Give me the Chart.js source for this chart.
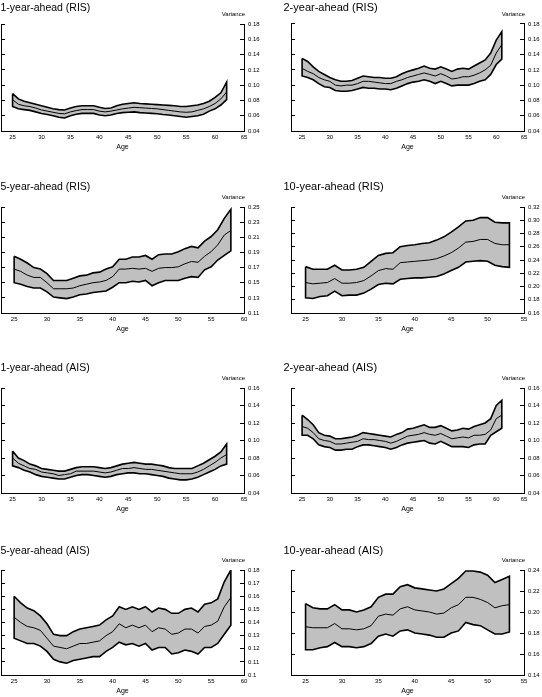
<!DOCTYPE html>
<html><head><meta charset="utf-8">
<script src="https://cdn.jsdelivr.net/npm/chart.js@4/dist/chart.umd.min.js"></script>
<style>
html,body{margin:0;padding:0;background:#fff;width:542px;height:697px;overflow:hidden;position:relative}
canvas{position:absolute}
</style></head><body>
<script>
// ---- categories (ages) ----
const ages1 = [25,26,27,28,29,30,31,32,33,34,35,36,37,38,39,40,41,42,43,44,45,46,47,48,49,50,51,52,53,54,55,56,57,58,59,60,61,62];
const ages2 = [25,26,27,28,29,30,31,32,33,34,35,36,37,38,39,40,41,42,43,44,45,46,47,48,49,50,51,52,53,54,55,56,57,58,59,60,61];
const ages5 = [25,26,27,28,29,30,31,32,33,34,35,36,37,38,39,40,41,42,43,44,45,46,47,48,49,50,51,52,53,54,55,56,57,58];
const ages10 = [25,26,27,28,29,30,31,32,33,34,35,36,37,38,39,40,41,42,43,44,45,46,47,48,49,50,51,52,53];

// ---- RIS ----
const ris1Upper = [0.089,0.082,0.079,0.077,0.075,0.073,0.071,0.069,0.068,0.0675,0.070,0.072,0.073,0.073,0.073,0.071,0.0695,0.070,0.073,0.075,0.076,0.077,0.076,0.0755,0.075,0.0745,0.074,0.0735,0.073,0.072,0.072,0.073,0.074,0.076,0.079,0.084,0.090,0.104];
const ris1Mean  = [0.081,0.075,0.073,0.072,0.070,0.0675,0.066,0.0645,0.063,0.0625,0.065,0.0667,0.068,0.068,0.068,0.066,0.065,0.066,0.0675,0.069,0.070,0.071,0.0705,0.070,0.0695,0.069,0.068,0.067,0.066,0.065,0.0645,0.065,0.067,0.069,0.072,0.076,0.082,0.091];
const ris1Lower = [0.072,0.069,0.068,0.067,0.065,0.063,0.0615,0.060,0.058,0.057,0.060,0.062,0.063,0.063,0.063,0.061,0.060,0.061,0.063,0.064,0.0645,0.065,0.064,0.0635,0.063,0.0625,0.0615,0.061,0.060,0.059,0.058,0.059,0.060,0.062,0.066,0.069,0.074,0.081];

const ris2Upper = [0.135,0.131,0.124,0.118,0.114,0.110,0.107,0.105,0.105,0.106,0.109,0.112,0.111,0.110,0.110,0.109,0.109,0.111,0.115,0.118,0.120,0.122,0.125,0.122,0.121,0.124,0.121,0.118,0.121,0.122,0.121,0.125,0.129,0.133,0.142,0.159,0.170];
const ris2Mean  = [0.122,0.118,0.115,0.110,0.107,0.105,0.100,0.099,0.100,0.100,0.102,0.105,0.105,0.104,0.103,0.102,0.102,0.105,0.107,0.110,0.112,0.114,0.116,0.114,0.112,0.115,0.112,0.108,0.109,0.111,0.111,0.113,0.116,0.120,0.126,0.142,0.153];
const ris2Lower = [0.112,0.110,0.107,0.102,0.098,0.097,0.093,0.092,0.092,0.093,0.095,0.097,0.096,0.096,0.095,0.095,0.094,0.096,0.099,0.102,0.104,0.105,0.107,0.105,0.102,0.105,0.102,0.099,0.100,0.100,0.100,0.102,0.105,0.107,0.114,0.127,0.134];

const ris5Upper = [0.185,0.181,0.176,0.170,0.168,0.162,0.153,0.153,0.153,0.156,0.159,0.160,0.163,0.164,0.168,0.171,0.181,0.181,0.184,0.184,0.186,0.181,0.187,0.188,0.188,0.191,0.195,0.198,0.196,0.205,0.211,0.220,0.235,0.247];
const ris5Mean  = [0.168,0.165,0.160,0.157,0.157,0.150,0.142,0.142,0.142,0.143,0.146,0.148,0.150,0.151,0.153,0.158,0.168,0.168,0.169,0.168,0.169,0.165,0.169,0.170,0.170,0.171,0.175,0.178,0.177,0.185,0.191,0.200,0.213,0.219];
const ris5Lower = [0.150,0.148,0.145,0.143,0.143,0.138,0.131,0.130,0.129,0.131,0.134,0.135,0.137,0.138,0.139,0.144,0.150,0.150,0.152,0.151,0.153,0.146,0.150,0.153,0.153,0.153,0.156,0.158,0.157,0.167,0.171,0.180,0.186,0.192];

const ris10Upper = [0.230,0.226,0.226,0.226,0.232,0.225,0.225,0.226,0.229,0.238,0.247,0.250,0.251,0.260,0.262,0.263,0.265,0.266,0.270,0.275,0.282,0.290,0.299,0.300,0.304,0.304,0.297,0.296,0.296];
const ris10Mean  = [0.206,0.204,0.205,0.206,0.212,0.205,0.205,0.206,0.209,0.216,0.224,0.227,0.226,0.236,0.237,0.238,0.239,0.240,0.242,0.246,0.251,0.258,0.267,0.268,0.271,0.271,0.265,0.263,0.263];
const ris10Lower = [0.183,0.182,0.185,0.186,0.193,0.186,0.187,0.187,0.190,0.196,0.203,0.205,0.204,0.211,0.212,0.213,0.213,0.214,0.215,0.219,0.224,0.229,0.237,0.238,0.239,0.238,0.232,0.230,0.229];

// ---- AIS ----
const ais1Upper = [0.088,0.080,0.077,0.073,0.071,0.068,0.067,0.066,0.065,0.065,0.067,0.069,0.070,0.070,0.070,0.069,0.068,0.069,0.071,0.073,0.074,0.075,0.074,0.073,0.073,0.072,0.071,0.069,0.068,0.068,0.068,0.068,0.071,0.074,0.078,0.082,0.087,0.096];
const ais1Mean  = [0.080,0.074,0.071,0.068,0.067,0.064,0.063,0.062,0.060,0.061,0.062,0.065,0.065,0.065,0.065,0.064,0.063,0.064,0.066,0.068,0.068,0.069,0.068,0.067,0.067,0.066,0.065,0.064,0.063,0.062,0.062,0.062,0.064,0.067,0.071,0.075,0.080,0.084];
const ais1Lower = [0.071,0.069,0.066,0.064,0.061,0.059,0.058,0.057,0.056,0.056,0.058,0.060,0.061,0.061,0.060,0.059,0.058,0.059,0.061,0.062,0.063,0.063,0.062,0.062,0.061,0.060,0.059,0.057,0.056,0.055,0.055,0.056,0.058,0.061,0.064,0.067,0.071,0.073];

const ais2Upper = [0.129,0.124,0.118,0.109,0.106,0.105,0.102,0.102,0.103,0.104,0.106,0.109,0.108,0.107,0.106,0.105,0.104,0.107,0.109,0.113,0.114,0.116,0.118,0.115,0.115,0.117,0.114,0.111,0.112,0.114,0.113,0.116,0.118,0.120,0.125,0.140,0.146];
const ais2Mean  = [0.116,0.114,0.109,0.102,0.100,0.099,0.096,0.096,0.097,0.098,0.099,0.102,0.101,0.101,0.100,0.099,0.097,0.099,0.102,0.105,0.106,0.107,0.109,0.107,0.106,0.108,0.105,0.102,0.103,0.104,0.103,0.106,0.106,0.107,0.112,0.125,0.129];
const ais2Lower = [0.106,0.106,0.102,0.095,0.093,0.092,0.089,0.089,0.090,0.090,0.093,0.095,0.095,0.094,0.093,0.092,0.090,0.092,0.095,0.097,0.098,0.099,0.100,0.097,0.096,0.099,0.096,0.093,0.093,0.093,0.092,0.095,0.096,0.096,0.106,0.110,0.114];

const ais5Upper = [0.160,0.155,0.151,0.149,0.145,0.139,0.131,0.130,0.130,0.133,0.135,0.136,0.137,0.138,0.142,0.145,0.152,0.150,0.152,0.150,0.152,0.148,0.151,0.150,0.147,0.147,0.150,0.151,0.148,0.154,0.155,0.158,0.171,0.180];
const ais5Mean  = [0.144,0.140,0.137,0.136,0.134,0.128,0.122,0.121,0.120,0.122,0.124,0.124,0.125,0.126,0.130,0.133,0.139,0.136,0.138,0.136,0.138,0.133,0.136,0.135,0.131,0.132,0.135,0.135,0.132,0.137,0.138,0.141,0.152,0.159];
const ais5Lower = [0.128,0.126,0.124,0.124,0.122,0.118,0.112,0.110,0.109,0.111,0.112,0.113,0.114,0.114,0.118,0.121,0.125,0.123,0.124,0.122,0.124,0.119,0.121,0.121,0.116,0.117,0.119,0.118,0.116,0.121,0.121,0.124,0.131,0.138];

const ais10Upper = [0.208,0.204,0.203,0.203,0.207,0.202,0.202,0.200,0.202,0.205,0.214,0.217,0.217,0.224,0.226,0.223,0.222,0.221,0.220,0.222,0.227,0.232,0.239,0.239,0.238,0.235,0.228,0.231,0.234];
const ais10Mean  = [0.186,0.185,0.185,0.185,0.189,0.184,0.184,0.183,0.184,0.187,0.196,0.198,0.197,0.203,0.205,0.202,0.201,0.200,0.198,0.199,0.204,0.207,0.214,0.214,0.212,0.209,0.204,0.206,0.207];
const ais10Lower = [0.164,0.164,0.166,0.167,0.171,0.167,0.167,0.166,0.167,0.170,0.177,0.179,0.177,0.182,0.183,0.180,0.179,0.178,0.176,0.176,0.180,0.182,0.190,0.188,0.187,0.183,0.179,0.179,0.181];

// ---- tick labels ----
const xTicks65 = [25,30,35,40,45,50,55,60,65];
const xTicks60 = [25,30,35,40,45,50,55,60];
const xTicks55 = [25,30,35,40,45,50,55];
const yTicksRis1 = [0.04,0.06,0.08,0.10,0.12,0.14,0.16,0.18];
const yTicksRis2 = [0.04,0.06,0.08,0.10,0.12,0.14,0.16,0.18];
const yTicksRis5 = [0.11,0.13,0.15,0.17,0.19,0.21,0.23,0.25];
const yTicksRis10 = [0.16,0.18,0.20,0.22,0.24,0.26,0.28,0.30,0.32];
const yTicksAis1 = [0.04,0.06,0.08,0.10,0.12,0.14,0.16];
const yTicksAis2 = [0.04,0.06,0.08,0.10,0.12,0.14,0.16];
const yTicksAis5 = [0.10,0.11,0.12,0.13,0.14,0.15,0.16,0.17,0.18];
const yTicksAis10 = [0.14,0.16,0.18,0.20,0.22,0.24];

const titles = ['1-year-ahead (RIS)','2-year-ahead (RIS)','5-year-ahead (RIS)','10-year-ahead (RIS)',
                '1-year-ahead (AIS)','2-year-ahead (AIS)','5-year-ahead (AIS)','10-year-ahead (AIS)'];

const panels = [
  {ages:ages1, up:ris1Upper, mean:ris1Mean, low:ris1Lower, yT:yTicksRis1, xT:xTicks65, fmt:2},
  {ages:ages2, up:ris2Upper, mean:ris2Mean, low:ris2Lower, yT:yTicksRis2, xT:xTicks65, fmt:2},
  {ages:ages5, up:ris5Upper, mean:ris5Mean, low:ris5Lower, yT:yTicksRis5, xT:xTicks60, fmt:2},
  {ages:ages10, up:ris10Upper, mean:ris10Mean, low:ris10Lower, yT:yTicksRis10, xT:xTicks55, fmt:2},
  {ages:ages1, up:ais1Upper, mean:ais1Mean, low:ais1Lower, yT:yTicksAis1, xT:xTicks65, fmt:2},
  {ages:ages2, up:ais2Upper, mean:ais2Mean, low:ais2Lower, yT:yTicksAis2, xT:xTicks65, fmt:2},
  {ages:ages5, up:ais5Upper, mean:ais5Mean, low:ais5Lower, yT:yTicksAis5, xT:xTicks60, fmt:'g'},
  {ages:ages10, up:ais10Upper, mean:ais10Mean, low:ais10Lower, yT:yTicksAis10, xT:xTicks55, fmt:2}
];

// ---- layout ----
const FAM = '"Liberation Sans", Arial, sans-serif';
const rows = [
  {plotTop:24, plotBottom:131, titleMid:7.8},
  {plotTop:207, plotBottom:313, titleMid:187},
  {plotTop:388, plotBottom:493, titleMid:368},
  {plotTop:570, plotBottom:675, titleMid:550.7}
];
const cols = [
  {left:0, width:271, padLeft:0.5, axisL:0.5, axisR:25, padRight:2, titleSize:10.5},
  {left:271, width:271, padLeft:12.5, axisL:7.5, axisR:16, padRight:2, titleSize:11}
];
const TOPBOX = 30, XAXIS = 24;

const varianceLabel = {
  id:'varianceLabel',
  afterDraw(chart, args, opts){
    const {ctx, chartArea} = chart;
    ctx.save();
    ctx.font = '6px ' + FAM;
    ctx.fillStyle = '#000';
    ctx.textAlign = 'right';
    ctx.textBaseline = 'middle';
    ctx.fillText(opts.text, chartArea.right + 1, chartArea.top - 9.5);
    ctx.restore();
  }
};

panels.forEach((p, i) => {
  const row = rows[Math.floor(i / 2) % 2 + (i >= 4 ? 2 : 0)];
  const col = cols[i % 2];
  const plotH = row.plotBottom - row.plotTop;
  const cTop = row.plotTop - TOPBOX;
  const cH = plotH + TOPBOX + XAXIS;
  const canvas = document.createElement('canvas');
  canvas.width = col.width; canvas.height = cH;
  canvas.style.left = col.left + 'px'; canvas.style.top = cTop + 'px';
  canvas.style.width = col.width + 'px'; canvas.style.height = cH + 'px';
  document.body.appendChild(canvas);

  const fs = col.titleSize;
  const pt = row.titleMid - cTop - 0.6 * fs;
  const pb = TOPBOX - pt - 1.2 * fs;

  const bandPts = p.ages.map((a, k) => ({x:a, y:p.up[k]}))
    .concat(p.ages.map((a, k) => ({x:a, y:p.low[k]})).reverse())
    .concat([{x:p.ages[0], y:p.up[0]}]);
  const meanPts = p.ages.map((a, k) => ({x:a, y:p.mean[k]}));

  const yMin = p.yT[0], yMax = p.yT[p.yT.length - 1];
  const fmt = v => p.fmt === 'g' ? String(parseFloat(v.toFixed(2))) : v.toFixed(2);

  new Chart(canvas, {
    type:'line',
    data:{datasets:[
      {data:meanPts, yAxisID:'y', borderColor:'#000', borderWidth:1, pointRadius:0, fill:false, tension:0, order:0},
      {data:bandPts, yAxisID:'y', borderColor:'#000', borderWidth:1.6, backgroundColor:'#c0c0c0', pointRadius:0, fill:'shape', tension:0, order:1}
    ]},
    options:{
      responsive:false, animation:false, devicePixelRatio:1,
      layout:{padding:{left:col.padLeft, right:col.padRight, top:0, bottom:0}},
      plugins:{
        legend:{display:false}, tooltip:{enabled:false},
        title:{display:true, text:titles[i], align:'start', color:'#000',
               font:{family:FAM, size:fs, weight:'normal'}, padding:{top:pt, bottom:pb}},
        varianceLabel:{text:'Variance'}
      },
      scales:{
        x:{type:'linear', min:23, max:p.xT[p.xT.length - 1],
           afterBuildTicks:s => { s.ticks = p.xT.map(v => ({value:v})); },
           afterFit:s => { s.height = XAXIS; },
           grid:{display:false, drawTicks:false},
           border:{display:true, color:'#000', width:1},
           ticks:{padding:3, color:'#000', font:{family:FAM, size:6}, maxRotation:0, autoSkip:false, callback:v => String(v)},
           title:{display:true, text:'Age', color:'#000', font:{family:FAM, size:7}, padding:{top:0, bottom:3.3}}},
        yL:{type:'linear', position:'left', min:yMin, max:yMax,
           afterBuildTicks:s => { s.ticks = p.yT.map(v => ({value:v})); },
           afterFit:s => { s.width = col.axisL; },
           ticks:{display:false},
           grid:{drawOnChartArea:false, tickLength:-4, color:'#000'},
           border:{display:true, color:'#000', width:1}},
        y:{type:'linear', position:'right', min:yMin, max:yMax,
           afterBuildTicks:s => { s.ticks = p.yT.map(v => ({value:v})); },
           afterFit:s => { s.width = col.axisR; },
           ticks:{padding:8, color:'#000', font:{family:FAM, size:6}, callback:v => fmt(v)},
           grid:{drawOnChartArea:false, tickLength:-4, color:'#000'},
           border:{display:true, color:'#000', width:1}}
      }
    },
    plugins:[varianceLabel]
  });
});
</script>
</body></html>
